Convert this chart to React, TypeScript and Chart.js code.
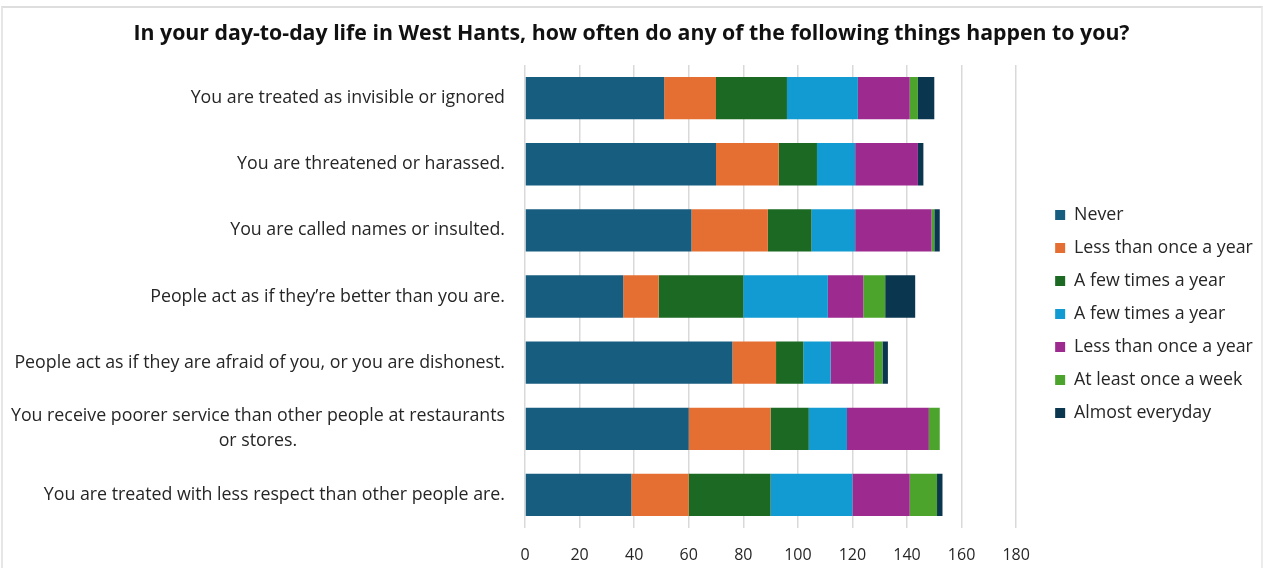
import React, { useEffect, useRef } from "react";
import { Chart, registerables } from "chart.js";

Chart.register(...registerables);

const TITLE = "In your day-to-day life in West Hants, how often do any of the following things happen to you?";

const categories: (string | string[])[] = [
  "You are treated as invisible or ignored",
  "You are threatened or harassed.",
  "You are called names or insulted.",
  "People act as if they\u2019re better than you are.",
  "People act as if they are afraid of you, or you are dishonest.",
  ["You receive poorer service than other people at restaurants", "or stores."],
  "You are treated with less respect than other people are.",
];

const seriesNames = [
  "Never",
  "Less than once a year",
  "A few times a year",
  "A few times a year",
  "Less than once a year",
  "At least once a week",
  "Almost everyday",
];

const seriesColors = ["#175d80", "#e56f33", "#1b6922", "#119bd2", "#9d2a8f", "#4ca42d", "#0b3650"];

const never = [51, 70, 61, 36, 76, 60, 39];
const lessOrange = [19, 23, 28, 13, 16, 30, 21];
const fewDarkGreen = [26, 14, 16, 31, 10, 14, 30];
const fewLightBlue = [26, 14, 16, 31, 10, 14, 30];
const lessPurple = [19, 23, 28, 13, 16, 30, 21];
const weekly = [3, 0, 1, 8, 3, 4, 10];
const everyday = [6, 2, 2, 11, 2, 0, 2];

const xTicks = [0, 20, 40, 60, 80, 100, 120, 140, 160, 180];

const seriesValues = [never, lessOrange, fewDarkGreen, fewLightBlue, lessPurple, weekly, everyday];

const FONT = "'Open Sans', 'Noto Sans', sans-serif";
const LABEL_SIZE = 17.8;
const LEGEND_SIZE = 17.8;
const LEGEND_PAD = 15.2;

// Pads shorter lines of a multi-line (right-aligned) label so they appear centred under the longest line.
function centreLines(lines: string[], size: number): string[] {
  const c = document.createElement("canvas").getContext("2d");
  if (!c) return lines;
  c.font = `${size}px ${FONT}`;
  const widths = lines.map((l) => c.measureText(l).width);
  const maxW = Math.max(...widths);
  const sp = c.measureText(" ").width || 1;
  return lines.map((l, i) => {
    const n = Math.round((maxW - widths[i]) / 2 / sp);
    return l + " ".repeat(Math.max(0, n));
  });
}

const layoutTweaks = {
  id: "layoutTweaks",
  afterLayout(chart: any) {
    const lg = chart.legend;
    if (lg) {
      const boxGap = 39;
      const w = lg.width;
      lg.left = chart.chartArea.right + boxGap - LEGEND_PAD;
      lg.right = lg.left + w;
      lg.top += 30;
      lg.bottom += 30;
    }
    const t = chart.titleBlock;
    if (t) {
      t.left = 0;
      t.right = chart.width;
      t.width = chart.width;
    }
  },
};

export default function App() {
  const canvasRef = useRef<HTMLCanvasElement | null>(null);

  useEffect(() => {
    if (!canvasRef.current) return;
    const chart = new Chart(canvasRef.current, {
      type: "bar",
      data: {
        labels: categories,
        datasets: seriesValues.map((vals, i) => ({
          label: seriesNames[i],
          data: vals,
          backgroundColor: seriesColors[i],
          borderWidth: 0,
          barPercentage: 0.64,
          categoryPercentage: 1,
        })),
      },
      plugins: [layoutTweaks],
      options: {
        indexAxis: "y",
        animation: false,
        responsive: false,
        maintainAspectRatio: false,
        layout: { padding: { left: 0, right: 24, top: 0, bottom: 0 } },
        plugins: {
          tooltip: { enabled: false },
          title: {
            display: true,
            text: TITLE,
            color: "#111111",
            font: { family: FONT, size: 21.3, weight: "bold", lineHeight: 1.2 },
            padding: { top: 21, bottom: 18.5 },
          },
          legend: {
            position: "right",
            align: "center",
            labels: {
              boxWidth: 10,
              boxHeight: 10,
              padding: LEGEND_PAD,
              color: "#262626",
              font: { family: FONT, size: LEGEND_SIZE },
            },
          },
        },
        scales: {
          x: {
            stacked: true,
            min: 0,
            max: 180,
            afterBuildTicks: (scale: any) => {
              scale.ticks = xTicks.map((v) => ({ value: v }));
            },
            afterFit: (scale: any) => {
              scale.height = 40;
            },
            grid: { color: "#d9d9d9", lineWidth: 1.5, drawTicks: false },
            border: { display: false },
            ticks: {
              color: "#262626",
              padding: 18,
              font: { family: FONT, size: 16 },
            },
          },
          y: {
            stacked: true,
            grid: { display: false, drawTicks: false },
            border: { display: false },
            afterFit: (scale: any) => {
              scale.width = 525;
              scale.paddingTop = 0;
              scale.paddingBottom = 0;
            },
            ticks: {
              color: "#262626",
              padding: 20,
              font: { family: FONT, size: LABEL_SIZE, lineHeight: 1.4 },
              callback: function (this: any, value: any) {
                const lbl = this.getLabelForValue(value);
                const raw = categories[value as number];
                if (Array.isArray(raw)) return centreLines(raw, LABEL_SIZE);
                return lbl;
              },
            },
          },
        },
      },
    });
    return () => chart.destroy();
  }, []);

  return (
    <div style={{ position: "fixed", left: 0, top: 0, width: 1263, height: 568, background: "#ffffff", overflow: "hidden" }}>
      <canvas ref={canvasRef} width={1263} height={568} style={{ position: "absolute", left: 0, top: 0, width: 1263, height: 568 }} />
      <div
        style={{
          position: "absolute",
          left: 1,
          top: 6,
          width: 1258,
          height: 580,
          borderTop: "2px solid #dedede",
          borderLeft: "2px solid #e6e6e6",
          borderRight: "2px solid #ececec",
          pointerEvents: "none",
        }}
      />
    </div>
  );
}
